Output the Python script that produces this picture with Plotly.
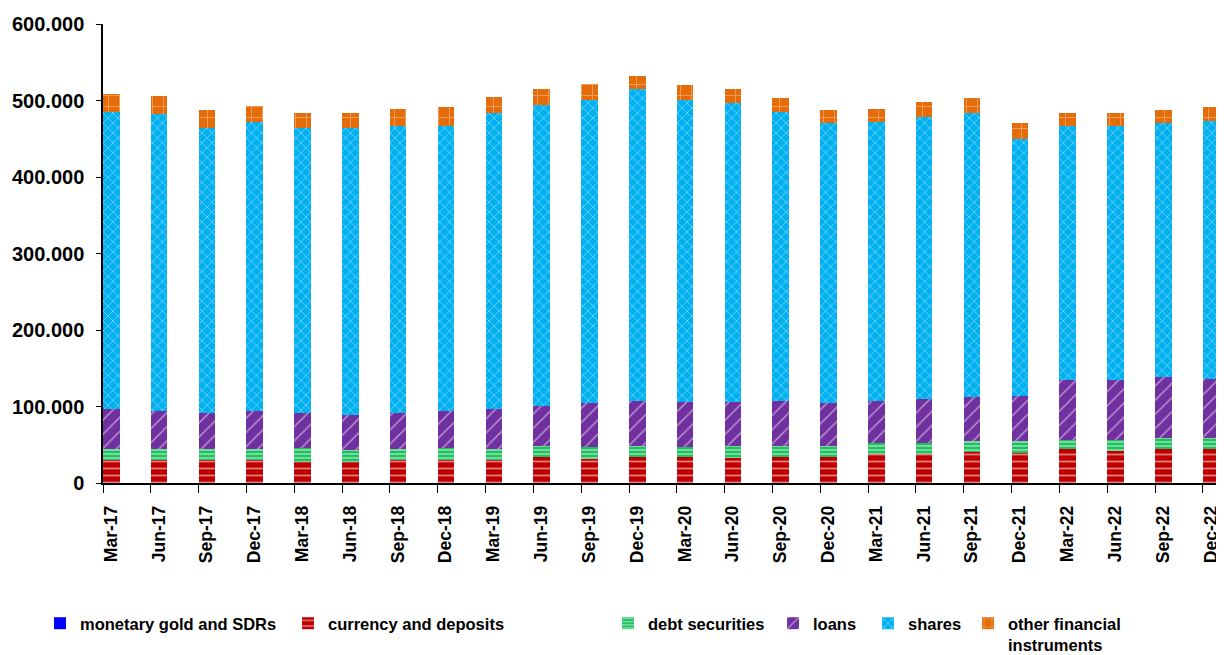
import plotly.graph_objects as go

categories = ["Mar-17", "Jun-17", "Sep-17", "Dec-17", "Mar-18", "Jun-18", "Sep-18", "Dec-18",
              "Mar-19", "Jun-19", "Sep-19", "Dec-19", "Mar-20", "Jun-20", "Sep-20", "Dec-20",
              "Mar-21", "Jun-21", "Sep-21", "Dec-21", "Mar-22", "Jun-22", "Sep-22", "Dec-22"]

monetary_gold = [0] * 24
currency_deposits = [30000, 29600, 30000, 30000, 27900, 27900, 30000, 30000,
                     30000, 33600, 31400, 33600, 33600, 33100, 34400, 34400,
                     37500, 37500, 40100, 39700, 44000, 42300, 44000, 44000]
debt_securities = [15000, 14800, 14000, 14400, 17400, 15200, 14400, 15300,
                   14400, 14800, 16100, 14800, 13000, 15300, 14000, 14000,
                   14400, 14400, 14800, 15200, 12200, 13900, 15200, 15200]
loans = [51700, 49600, 48000, 49600, 45700, 45800, 46600, 48700,
         51900, 52600, 56500, 59200, 59700, 57900, 59200, 55600,
         55700, 57500, 58000, 59100, 78400, 78400, 78800, 76800]
shares = [387800, 389000, 372500, 378000, 372600, 374700, 375700, 372700,
          387700, 393000, 396700, 407000, 394400, 390000, 377800, 367000,
          363900, 368600, 371100, 335700, 332400, 332400, 333000, 337600]
other_instruments = [24500, 23000, 23100, 21000, 20400, 20400, 22200, 24300,
                     20000, 20600, 20900, 17400, 19600, 18700, 17400, 16600,
                     17400, 20400, 18800, 20500, 17000, 17000, 16600, 17400]

series_names = ["monetary gold and SDRs", "currency and deposits", "debt securities",
                "loans", "shares", "other financial<br>instruments"]
series_values = [monetary_gold, currency_deposits, debt_securities, loans, shares, other_instruments]

styles = [
    dict(color="#0000FF", pattern=None),
    dict(color="#C00000", pattern=dict(shape="-", bgcolor="#C00000", fgcolor="#FFFFFF", size=7, solidity=0.25)),
    dict(color="#00B050", pattern=dict(shape="-", bgcolor="#20C060", fgcolor="#C8F5D8", size=4, solidity=0.5)),
    dict(color="#7030A0", pattern=dict(shape="/", bgcolor="#7030A0", fgcolor="#FFFFFF", size=10, solidity=0.15)),
    dict(color="#00B0F0", pattern=dict(shape="x", bgcolor="#00B0F0", fgcolor="#FFFFFF", size=7, solidity=0.2)),
    dict(color="#E46C0A", pattern=dict(shape="+", bgcolor="#E46C0A", fgcolor="#FFD8B8", size=11, solidity=0.15)),
]

# The page body adds an 8px margin, so the figure is drawn 8px right/down.
PAGE_OFF = 8
FIG_W, FIG_H = 1224 - PAGE_OFF, 655 - PAGE_OFF

# legend text start positions on the page (px)
legend_text_px = [80, 328, 648, 813, 908, 1008]
legend_names = ["legend", "legend2", "legend3", "legend4", "legend5", "legend6"]

fig = go.Figure()
for i, (name, vals, st) in enumerate(zip(series_names, series_values, styles)):
    marker = dict(color=st["color"], line=dict(width=0))
    if st["pattern"]:
        marker["pattern"] = st["pattern"]
    fig.add_trace(go.Bar(
        x=categories, y=vals, name=name, marker=marker,
        width=0.345, offset=0, legend=legend_names[i],
    ))

font_family = "Arial, Liberation Sans, sans-serif"
layout_legends = {}
for i, ln in enumerate(legend_names):
    layout_legends[ln] = dict(
        xref="container", yref="container",
        x=(legend_text_px[i] - 40 - PAGE_OFF) / FIG_W, xanchor="left",
        y=(655 - 606) / FIG_H, yanchor="top",
        orientation="h", itemwidth=30, valign="top",
        font=dict(family=font_family, size=16.5, color="black", weight="bold"),
        bgcolor="rgba(0,0,0,0)", borderwidth=0,
    )

fig.update_layout(
    width=FIG_W, height=FIG_H,
    barmode="stack",
    separators=",.",
    plot_bgcolor="white", paper_bgcolor="white",
    margin=dict(l=103 - PAGE_OFF, r=2, t=24 - PAGE_OFF, b=655 - 483, autoexpand=False),
    font=dict(family=font_family, color="black"),
    showlegend=True,
    **layout_legends,
)
fig.update_xaxes(
    type="category", range=[0, 23.4], automargin=False,
    showline=True, linecolor="black", linewidth=1.5,
    ticks="outside", ticklen=8, tickcolor="black",
    tickangle=-90, ticklabelshift=8, ticklabelstandoff=6,
    tickfont=dict(family=font_family, size=17.5, color="black", weight="bold"),
    showgrid=False, zeroline=False,
)
fig.update_yaxes(
    range=[0, 600000], dtick=100000, tickformat=",d", automargin=False,
    showline=True, linecolor="black", linewidth=1.5,
    ticks="outside", ticklen=5, tickcolor="black",
    tickfont=dict(family=font_family, size=20, color="black", weight="bold"),
    showgrid=False, zeroline=False,
    ticklabelstandoff=8,
)

fig.write_html("out.html")
